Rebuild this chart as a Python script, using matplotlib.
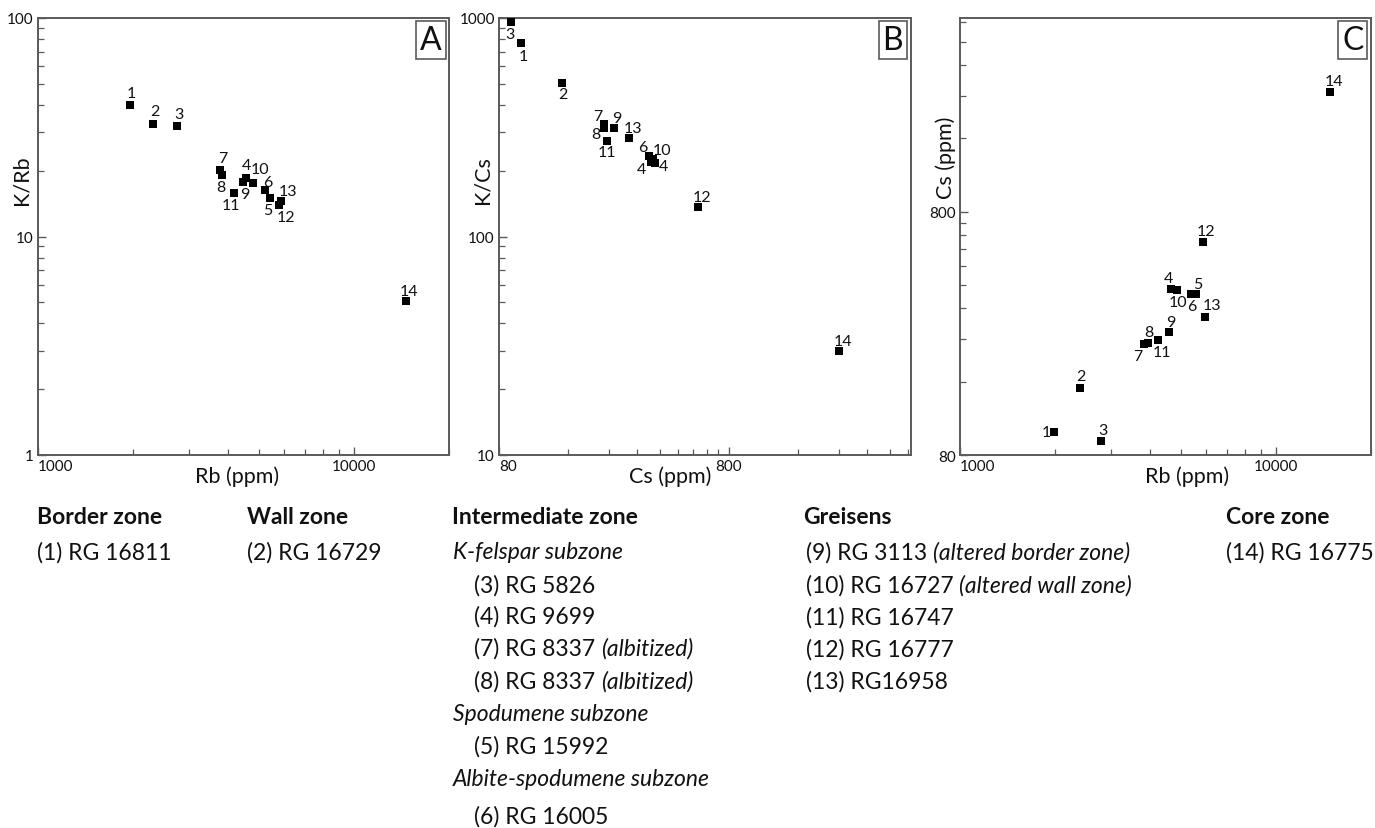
import matplotlib
matplotlib.use('Agg')
import matplotlib.pyplot as plt
from matplotlib.ticker import FixedLocator, NullFormatter, FixedFormatter

plt.rcParams['font.family'] = ['Lato', 'DejaVu Sans']

# ---------------- data (sample numbers 1..14) ----------------
samples = ['1', '2', '3', '4', '5', '6', '7', '8', '9', '10', '11', '12', '13', '14']

# Panel A: Rb (ppm) vs K/Rb
rb_a = [1952, 2314, 2756, 4571, 5420, 5237, 3763, 3818, 4461, 4800, 4188, 5773, 5870, 14580]
k_rb = [40.0, 32.7, 32.2, 18.5, 15.0, 16.3, 20.1, 19.2, 17.7, 17.6, 15.8, 13.9, 14.6, 5.08]

# Panel B: Cs (ppm) vs K/Cs
cs_b = [100, 150, 90.2, 383, 366, 361, 228, 228, 252, 374, 235, 585, 293, 2414]
k_cs = [769, 502, 955, 217, 220, 233, 326, 314, 313, 226, 275, 137, 282, 29.8]
labels_b = ['1', '2', '3', '4', '4', '6', '7', '8', '9', '10', '11', '12', '13', '14']

# Panel C: Rb (ppm) vs Cs (ppm)
rb_c = [1991, 2391, 2803, 4656, 5579, 5391, 3811, 3926, 4600, 4853, 4244, 5872, 5943, 14780]
cs_c = [99.8, 150.8, 91, 385, 368, 366, 228, 230, 256, 381, 238, 598, 296, 2474]

# label offsets in pixels (dx, dy; dy positive = down)
off_a = [(2, -12), (2, -13), (2, -12), (0, -13), (-2, 12), (3, -8), (3, -12), (-1, 12),
         (2, 12), (7, -14), (-4, 12), (7, 12), (7, -10), (3, -10)]
off_b = [(2, 13), (1, 11), (-1, 12), (8, 3), (-9, 7), (-7, -9), (-6, -8), (-8, 6),
         (3, -10), (9, -9), (0, 11), (4, -10), (4, -10), (4, -10)]
off_c = [(-8, 0), (1, -12), (1, -11), (-3, -11), (2, -10), (1, 12), (-6, 12), (1, -11),
         (1, -10), (1, 12), (4, 12), (3, -11), (7, -12), (4, -11)]

W, H = 1375, 829
fig = plt.figure(figsize=(W / 100, H / 100), dpi=100)

SPINE = '#5a5a5a'
TXT = '#111111'
AXLAB = 15.5
PTLAB = 11.5


def make_ax(left_px, right_px):
    top_px, bot_px = 19, 456
    ax = fig.add_axes([left_px / W, 1 - bot_px / H, (right_px - left_px) / W, (bot_px - top_px) / H])
    ax.set_xscale('log')
    ax.set_yscale('log')
    for s in ax.spines.values():
        s.set_color(SPINE)
        s.set_linewidth(1.4)
    ax.tick_params(which='both', direction='in', colors=SPINE, labelcolor=TXT, labelsize=11)
    ax.tick_params(which='major', length=6, width=1.0, pad=3)
    ax.tick_params(which='minor', length=4, width=0.9)
    return ax


def decorate(ax, xs, ys, labs, offs, letter):
    ax.scatter(xs, ys, marker='s', s=34, color='black', zorder=3, linewidths=0)
    for x, y, l, (dx, dy) in zip(xs, ys, labs, offs):
        ax.annotate(l, (x, y), xytext=(dx * 0.72, -dy * 0.72), textcoords='offset points',
                    ha='center', va='center', fontsize=PTLAB, color=TXT)
    ax.text(0.956, 0.95, letter, transform=ax.transAxes, ha='center', va='center',
            fontsize=23, color=TXT,
            bbox=dict(boxstyle='square,pad=0.12', facecolor='white', edgecolor=SPINE, linewidth=1.2))


def fix_ticks(ax, axis, majors, labels, minors):
    a = ax.xaxis if axis == 'x' else ax.yaxis
    a.set_major_locator(FixedLocator(majors))
    a.set_major_formatter(FixedFormatter(labels))
    a.set_minor_locator(FixedLocator(minors))
    a.set_minor_formatter(NullFormatter())


def axis_labels(ax, xl, yl, xpos, ypos):
    ax.set_xlabel(xl, fontsize=AXLAB, color=TXT, va='center')
    ax.set_ylabel(yl, fontsize=AXLAB, color=TXT, va='center')
    ax.xaxis.set_label_coords(*xpos)
    ax.yaxis.set_label_coords(*ypos)


dec_1_100 = [k for k in range(2, 10)] + [10 * k for k in range(2, 10)]
dec_1000 = [1000 * k for k in range(2, 10)] + [20000]
dec_10_1000 = [10 * k for k in range(2, 10)] + [100 * k for k in range(2, 10)]
dec_80 = [80 * k for k in range(2, 10)] + [800 * k for k in range(2, 7)]

# ---------- Panel A ----------
axA = make_ax(38, 449)
axA.set_xlim(1000, 20000)
axA.set_ylim(1, 100)
fix_ticks(axA, 'x', [1000, 10000], ['1000', '10000'], dec_1000)
fix_ticks(axA, 'y', [1, 10, 100], ['1', '10', '100'], dec_1_100)
decorate(axA, rb_a, k_rb, samples, off_a, 'A')
axis_labels(axA, 'Rb (ppm)', 'K/Rb', (0.484, -0.048), (-0.039, 0.632))

# ---------- Panel B ----------
axB = make_ax(499, 911)
axB.set_xlim(80, 4950)
axB.set_ylim(10, 1000)
fix_ticks(axB, 'x', [80, 800], ['80', '800'], dec_80)
fix_ticks(axB, 'y', [10, 100, 1000], ['10', '100', '1000'], dec_10_1000)
decorate(axB, cs_b, k_cs, labels_b, off_b, 'B')
axis_labels(axB, 'Cs (ppm)', 'K/Cs', (0.415, -0.048), (-0.041, 0.632))

# ---------- Panel C ----------
axC = make_ax(960, 1371)
axC.set_xlim(1000, 20000)
axC.set_ylim(80, 5000)
fix_ticks(axC, 'x', [1000, 10000], ['1000', '10000'], dec_1000)
fix_ticks(axC, 'y', [80, 800], ['80', '800'], dec_80)
decorate(axC, rb_c, cs_c, samples, off_c, 'C')
axis_labels(axC, 'Rb (ppm)', 'Cs (ppm)', (0.552, -0.048), (-0.036, 0.682))

for ax in (axA, axB, axC):
    ax.xaxis.get_majorticklabels()[0].set_horizontalalignment('left')
    ax.yaxis.get_majorticklabels()[0].set_verticalalignment('center_baseline')

# ---------------- legend text block ----------------
FS = 16.5


def ftext(xp, yp, s, **kw):
    return fig.text(xp / W, 1 - yp / H, s, fontsize=FS, color=TXT, va='center', ha='left', **kw)


def mixed(xp, yp, roman, italic):
    t = ftext(xp, yp, roman)
    axC.annotate(italic, xy=(1, 0), xycoords=t, xytext=(4, 0), textcoords='offset points',
                 ha='left', va='bottom', fontsize=FS, style='italic', color=TXT,
                 annotation_clip=False)


ftext(37, 517, 'Border zone', fontweight='bold')
ftext(37, 553, '(1) RG 16811')
ftext(247, 517, 'Wall zone', fontweight='bold')
ftext(247, 553, '(2) RG 16729')

ftext(452, 517, 'Intermediate zone', fontweight='bold')
ftext(453, 553, 'K-felspar subzone', style='italic')
ftext(474, 586, '(3) RG 5826')
ftext(474, 617, '(4) RG 9699')
mixed(474, 649, '(7) RG 8337', '(albitized)')
mixed(474, 682, '(8) RG 8337', '(albitized)')
ftext(453, 715, 'Spodumene subzone', style='italic')
ftext(474, 747, '(5) RG 15992')
ftext(453, 780, 'Albite-spodumene subzone', style='italic')
ftext(474, 817, '(6) RG 16005')

ftext(803, 517, 'Greisens', fontweight='bold')
mixed(806, 553, '(9) RG 3113', '(altered border zone)')
mixed(806, 586, '(10) RG 16727', '(altered wall zone)')
ftext(806, 618, '(11) RG 16747')
ftext(806, 650, '(12) RG 16777')
ftext(806, 682, '(13) RG16958')

ftext(1226, 517, 'Core zone', fontweight='bold')
ftext(1226, 553, '(14) RG 16775')

fig.savefig('out.png', dpi=100, facecolor='white')
